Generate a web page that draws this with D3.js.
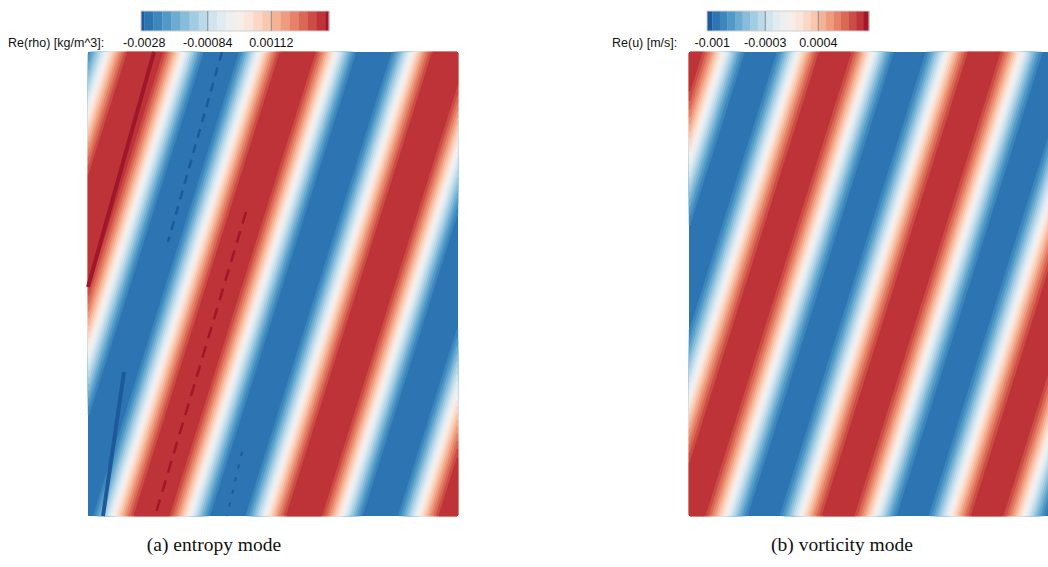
<!DOCTYPE html>
<html><head><meta charset="utf-8">
<script src="https://cdn.jsdelivr.net/npm/d3@7"></script>
<style>body{margin:0;background:#fff}svg{display:block}</style>
</head><body><svg id="c" width="1048" height="567"></svg>
<script>
// ---------- data ----------
const captions = ["(a) entropy mode", "(b) vorticity mode"];
const fieldLabels = ["Re(rho) [kg/m^3]:", "Re(u) [m/s]:"];

const tickValuesA = [-0.0028, -0.00084, 0.00112];
const tickLabelsA = ["-0.0028", "-0.00084", "0.00112"];
const tickValuesB = [-0.001, -0.0003, 0.0004];
const tickLabelsB = ["-0.001", "-0.0003", "0.0004"];

// contour levels (20 equal bands) and colorbar extent (incl. end extensions)
const levelsA = [-0.0028,-0.00252,-0.00224,-0.00196,-0.00168,-0.0014,-0.00112,-0.00084,-0.00056,-0.00028,0,
                 0.00028,0.00056,0.00084,0.00112,0.0014,0.00168,0.00196,0.00224,0.00252,0.0028];
const colorbarRangeA = [-0.0029, 0.0029];
const levelsB = [-0.001,-0.0009,-0.0008,-0.0007,-0.0006,-0.0005,-0.0004,-0.0003,-0.0002,-0.0001,0,
                 0.0001,0.0002,0.0003,0.0004,0.0005,0.0006,0.0007,0.0008,0.0009,0.001];
const colorbarRangeB = [-0.00107, 0.00107];

// plane-wave mode parameters (domain units = 0..370 wide, 0..464 tall)
const domainW = [0, 370];
const domainH = [0, 464];
const periodA = 152.5, slopeA = 0.315, zeroCrossA = 19, amplitudeA = 0.0034;
const periodB = 149,   slopeB = 0.315, zeroCrossB = 109, amplitudeB = 0.00116;

// numerical artefacts visible in the entropy-mode field (domain units)
const artefactsA = [
  {sign: 1,  width: 4, dash: null,   pts: [[66, 0], [0, 235]]},
  {sign: -1, width: 2.5, dash: "9,7",  pts: [[134, 0], [80, 190]]},
  {sign: 1,  width: 2.5, dash: "12,8", pts: [[158, 160], [67, 464]]},
  {sign: -1, width: 4, dash: null,   pts: [[36, 320], [15, 464]]},
  {sign: -1, width: 2, dash: "4,9",  pts: [[154, 400], [139, 464]]}
];

// ---------- layout ----------
const svg = d3.select("#c");
const panels = [
  {levels: levelsA, cbRange: colorbarRangeA, ticks: tickValuesA, tickLabels: tickLabelsA,
   period: periodA, slope: slopeA, zero: zeroCrossA, amp: amplitudeA, artefacts: artefactsA,
   fieldX: 88, cbX: [141, 329], labelX: 8, captionX: 214, label: fieldLabels[0], caption: captions[0]},
  {levels: levelsB, cbRange: colorbarRangeB, ticks: tickValuesB, tickLabels: tickLabelsB,
   period: periodB, slope: slopeB, zero: zeroCrossB, amp: amplitudeB, artefacts: [],
   fieldX: 689, cbX: [707, 869], labelX: 612, captionX: 842, label: fieldLabels[1], caption: captions[1]}
];
const fieldY = 52, fieldW = 370, fieldH = 464;
const cbY = 11, cbH = 20;

const nBands = 20;
const bandColor = i => d3.interpolateRdBu(0.865 - i * (0.73 / (nBands - 1)));
const underColor = d3.interpolateRdBu(0.92);
const overColor = d3.interpolateRdBu(0.08);

panels.forEach((p, pi) => {
  const g = svg.append("g");
  const x = d3.scaleLinear().domain(domainW).range([p.fieldX, p.fieldX + fieldW]);
  const y = d3.scaleLinear().domain(domainH).range([fieldY, fieldY + fieldH]);

  // sample field on grid
  const step = 2;
  const nx = Math.round((domainW[1] - domainW[0]) / step);
  const ny = Math.round((domainH[1] - domainH[0]) / step);
  const vals = new Float64Array(nx * ny);
  for (let j = 0; j < ny; j++) {
    for (let i = 0; i < nx; i++) {
      const dx = (i + 0.5) * step, dy = (j + 0.5) * step;
      vals[j * nx + i] = p.amp * Math.sin(2 * Math.PI * (dx + p.slope * dy - p.zero) / p.period);
    }
  }
  const contours = d3.contours().size([nx, ny]).thresholds(p.levels.slice(1, nBands))(vals);
  const proj = d3.geoTransform({point: function(px, py) { this.stream.point(x(px * step), y(py * step)); }});
  const path = d3.geoPath(proj);

  g.append("rect").attr("x", x(domainW[0])).attr("y", y(domainH[0]))
    .attr("width", x(domainW[1]) - x(domainW[0])).attr("height", y(domainH[1]) - y(domainH[0]))
    .attr("fill", bandColor(0));
  g.selectAll("path.band").data(contours).join("path").attr("class", "band")
    .attr("d", path).attr("fill", (d, i) => bandColor(i + 1))
    .attr("stroke", (d, i) => bandColor(i + 1)).attr("stroke-width", 0.4);

  const line = d3.line().x(d => x(d[0])).y(d => y(d[1]));
  g.selectAll("path.art").data(p.artefacts).join("path").attr("class", "art")
    .attr("d", d => line(d.pts)).attr("fill", "none")
    .attr("stroke", d => d.sign > 0 ? overColor : underColor)
    .attr("stroke-width", d => d.width).attr("stroke-dasharray", d => d.dash);

  // colorbar
  const cb = d3.scaleLinear().domain(p.cbRange).range(p.cbX);
  const edges = [p.cbRange[0], ...p.levels, p.cbRange[1]];
  const cols = [underColor, ...d3.range(nBands).map(bandColor), overColor];
  const segs = d3.pairs(edges).map((e, i) => ({a: e[0], b: e[1], c: cols[i]}));
  g.selectAll("rect.cb").data(segs).join("rect").attr("class", "cb")
    .attr("x", d => cb(d.a)).attr("y", cbY).attr("width", d => cb(d.b) - cb(d.a) + 0.3)
    .attr("height", cbH).attr("fill", d => d.c);
  g.append("rect").attr("x", p.cbX[0]).attr("y", cbY).attr("width", p.cbX[1] - p.cbX[0])
    .attr("height", cbH).attr("fill", "none").attr("stroke", "#cfcfcf").attr("stroke-width", 1);
  g.selectAll("line.tk").data(p.ticks.slice(1)).join("line").attr("class", "tk")
    .attr("x1", d => cb(d)).attr("x2", d => cb(d)).attr("y1", cbY).attr("y2", cbY + cbH)
    .attr("stroke", "#8a8a8a").attr("stroke-width", 1);
  g.selectAll("text.tl").data(p.ticks).join("text").attr("class", "tl")
    .attr("x", d => cb(d)).attr("y", 47).attr("text-anchor", "middle")
    .attr("font-family", "Liberation Sans, Arial, sans-serif").attr("font-size", 12.5)
    .attr("fill", "#111").text((d, i) => p.tickLabels[i]);
  g.append("text").attr("x", p.labelX).attr("y", 47)
    .attr("font-family", "Liberation Sans, Arial, sans-serif").attr("font-size", 12.5)
    .attr("fill", "#111").text(p.label);

  g.append("text").attr("x", p.captionX).attr("y", 551).attr("text-anchor", "middle")
    .attr("font-family", "Liberation Serif, DejaVu Serif, serif").attr("font-size", 19.5)
    .attr("fill", "#111").text(p.caption);
});
</script></body></html>
